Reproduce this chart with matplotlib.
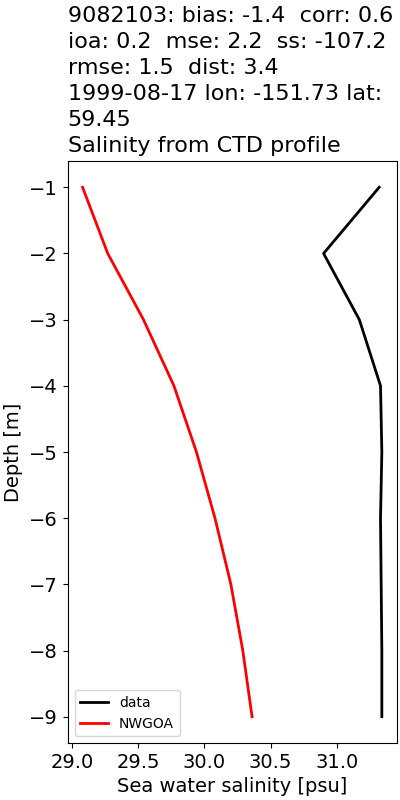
import matplotlib
matplotlib.use("Agg")
import matplotlib.pyplot as plt

depth = [-1, -2, -3, -4, -5, -6, -7, -8, -9]
data_sal = [31.32, 30.90, 31.17, 31.33, 31.34, 31.33, 31.335, 31.34, 31.34]
model_sal = [29.08, 29.27, 29.54, 29.77, 29.94, 30.08, 30.20, 30.29, 30.36]

title = ("9082103: bias: -1.4  corr: 0.6\n"
         "ioa: 0.2  mse: 2.2  ss: -107.2\n"
         "rmse: 1.5  dist: 3.4\n"
         "1999-08-17 lon: -151.73 lat:\n"
         "59.45\n"
         "Salinity from CTD profile")

fig, ax = plt.subplots(figsize=(4, 8), dpi=100)
ax.plot(data_sal, depth, color="black", lw=2, label="data")
ax.plot(model_sal, depth, color="red", lw=2, label="NWGOA")
ax.set_title(title, fontsize=16, loc="left", ha="left", linespacing=1.38)
ax.set_xlabel("Sea water salinity [psu]", fontsize=14)
ax.set_ylabel("Depth [m]", fontsize=14)
ax.tick_params(labelsize=14)
ax.set_xticks([29.0, 29.5, 30.0, 30.5, 31.0])
ax.legend(loc="lower left", fontsize=10)
fig.subplots_adjust(left=0.169, right=0.992, top=0.799, bottom=0.071)
fig.savefig("out.png", dpi=100)
